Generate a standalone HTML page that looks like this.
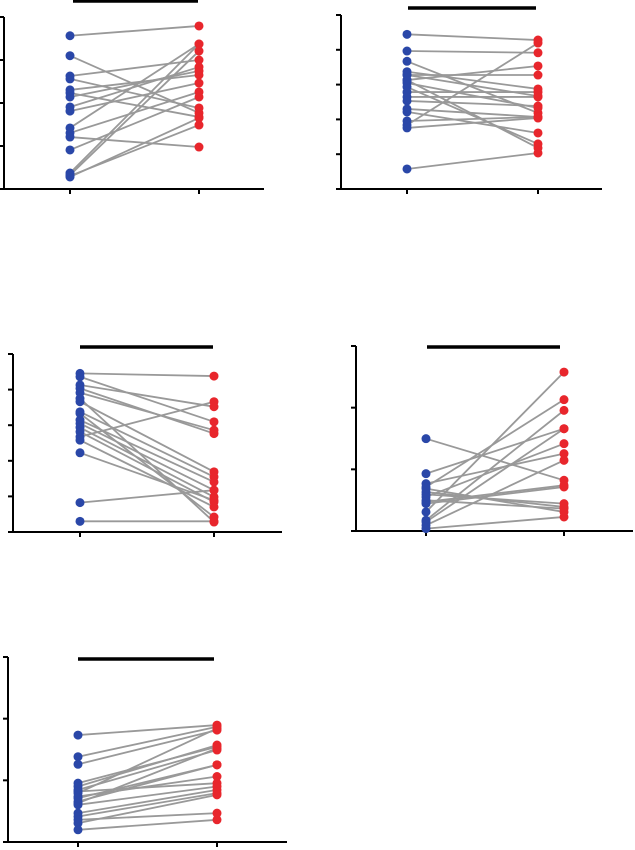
<!DOCTYPE html>
<html><head><meta charset="utf-8"><style>
html,body{margin:0;padding:0;background:#fff;}
svg{display:block;font-family:"Liberation Sans",sans-serif;}
</style></head><body>
<svg id="fig" width="635" height="850" viewBox="0 0 635 850"></svg>
<script>
// Panel 1 data (0-100 scale)
const p1Before=[89.1,77.5,65.7,64.0,57.6,55.8,53.5,47.7,45.3,35.5,32.6,30.2,22.7,9.3,8.1,7.0,7.6];
const p1After =[94.8,44.2,75.0,47.1,66.3,41.9,68.6,70.9,61.6,84.3,56.4,24.4,53.5,84.3,80.2,41.3,37.2];
// Panel 2
const p2Before=[88.9,79.3,73.4,67.4,65.5,62.6,60.9,58.6,55.7,52.9,50.6,46.0,44.3,39.1,36.8,35.1,11.5,62.6,65.5];
const p2After =[85.6,78.3,43.7,57.5,65.5,70.7,46.6,25.9,55.7,52.9,47.7,41.4,32.2,41.4,83.9,40.8,20.7,23.6,53.4];
// Panel 3
const p3Before=[89.1,87.2,82.6,80.7,78.2,75.0,73.2,53.5,67.5,62.9,61.0,58.7,56.3,51.6,44.5,16.5,6.0,66.6];
const p3After =[87.6,61.9,70.4,55.3,57.2,5.6,33.8,73.2,31.0,28.1,23.5,19.7,16.9,14.1,17.8,23.5,6.0,8.4];
// Panel 4
const p4Before=[49.9,31.0,25.6,23.8,21.1,19.8,18.4,16.6,14.8,10.3,5.8,3.1,1.3,22.9,15.7,4.9];
const p4After =[27.4,55.3,41.8,71.0,13.0,14.8,47.2,12.1,23.8,85.9,65.2,38.2,7.6,10.3,24.7,55.3];
// Panel 5
const p5Before=[57.8,46.1,42.0,31.8,30.0,28.2,26.4,24.6,21.9,21.0,20.1,15.6,13.8,12.0,10.2,6.6,27.3,23.7];
const p5After =[63.2,62.3,60.5,51.5,52.4,49.7,61.4,35.4,41.7,50.6,30.0,28.2,26.4,15.6,25.5,12.0,31.8,41.7];
const tickCounts=[4,5,5,3,3];

const NS="http://www.w3.org/2000/svg";
const svg=document.getElementById('fig');
function mk(tag,attrs,parent){const e=document.createElementNS(NS,tag);for(const k in attrs)e.setAttribute(k,attrs[k]);parent.appendChild(e);return e;}

const layouts=[
 {ax:4,top:17,bot:189,right:264,c1:70,c2:199,barY:1,b1:73,b2:198},
 {ax:341,top:15,bot:189,right:602,c1:407,c2:538,barY:8,b1:408,b2:536},
 {ax:13,top:354,bot:532,right:282,c1:80,c2:214,barY:347,b1:80,b2:213},
 {ax:356,top:346,bot:531,right:633,c1:426,c2:564,barY:347,b1:427,b2:560},
 {ax:8,top:657,bot:842,right:287,c1:78,c2:217,barY:659,b1:78,b2:214}
];
const data=[[p1Before,p1After],[p2Before,p2After],[p3Before,p3After],[p4Before,p4After],[p5Before,p5After]];

layouts.forEach((L,i)=>{
  const g=mk('g',{},svg);
  
  
  const y=v=>L.bot-(v/100)*(L.bot-L.top);
  const [B,A]=data[i];
  const ya=mk('line',{x1:L.ax,y1:L.top,x2:L.ax,y2:L.bot,stroke:'#000','stroke-width':2},g);
  
  
  const xa=mk('line',{x1:L.ax-1,y1:L.bot,x2:L.right,y2:L.bot,stroke:'#000','stroke-width':2},g);
  
  
  const n=tickCounts[i];
  for(let t=0;t<=n;t++){
    const ty=y(t*100/n);
    const tk=mk('line',{x1:L.ax-5,y1:ty,x2:L.ax,y2:ty,stroke:'#000','stroke-width':2},g);
    
    
  }
  [L.c1,L.c2].forEach(cx=>{
    const tk=mk('line',{x1:cx,y1:L.bot,x2:cx,y2:L.bot+5,stroke:'#000','stroke-width':2},g);
    
    
  });
  const bar=mk('line',{x1:L.b1,y1:L.barY,x2:L.b2,y2:L.barY,stroke:'#000','stroke-width':3.5},g);
  
  
  for(let k=0;k<B.length;k++){
    const ln=mk('line',{x1:L.c1,y1:y(B[k]),x2:L.c2,y2:y(A[k]),stroke:'#999','stroke-width':1.8},g);
    
    
  }
  for(let k=0;k<B.length;k++){
    const c=mk('circle',{cx:L.c1,cy:y(B[k]),r:4.5,fill:'#2a47a8'},g);
    
    
    const d=mk('circle',{cx:L.c2,cy:y(A[k]),r:4.5,fill:'#e8262c'},g);
    
    
  }
});
</script>
</body></html>
